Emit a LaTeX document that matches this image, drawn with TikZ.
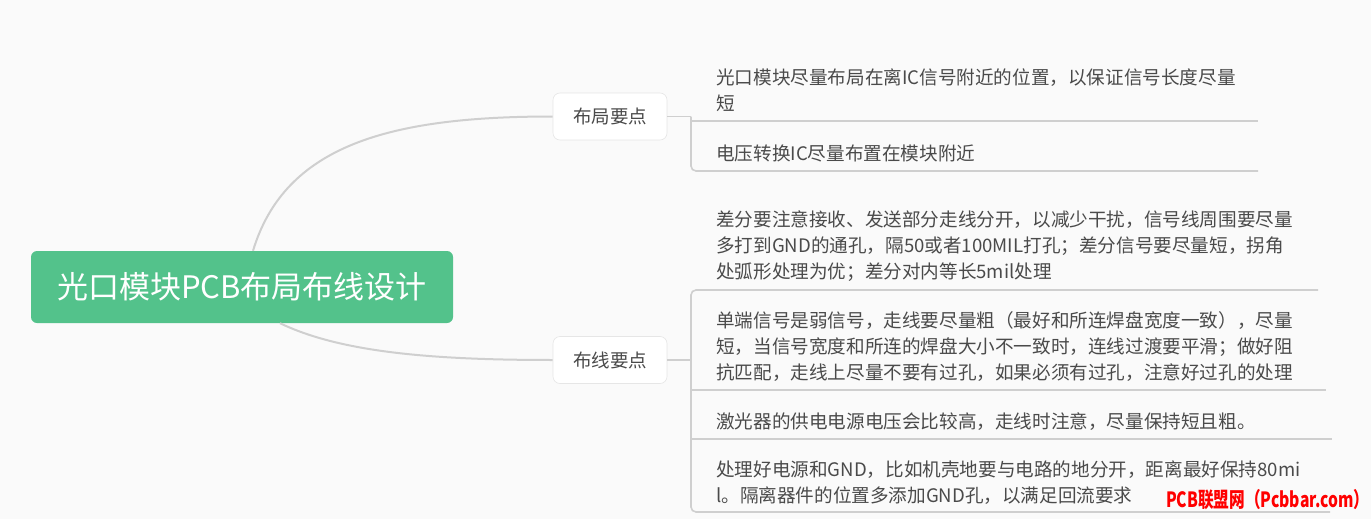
\documentclass[tikz,border=0pt]{standalone}
\usepackage{fontspec}
\setmainfont{Noto Sans CJK SC}
\newfontfamily\wmfont{Noto Sans CJK SC}
\usetikzlibrary{positioning}
\definecolor{bgc}{HTML}{FAFAFA}
\definecolor{rootc}{HTML}{53C28B}
\definecolor{linec}{HTML}{CFCFCF}
\definecolor{txtc}{HTML}{4A4A4A}
\definecolor{brc}{HTML}{E6E6E6}
\begin{document}
\begin{tikzpicture}[x=1pt,y=-1pt,
  rootbox/.style={fill=rootc,rounded corners=6pt,minimum width=422pt,minimum height=72pt,inner sep=0pt,
    text=white,font=\fontsize{31}{36}\selectfont},
  branchbox/.style={fill=white,draw=brc,line width=0.6pt,rounded corners=7pt,minimum width=114pt,minimum height=47pt,
    inner sep=0pt,text=txtc,font=\fontsize{18.5}{22}\selectfont},
  leaf/.style={anchor=west,inner sep=0pt,align=left,text=txtc,font=\fontsize{18.6}{25.6}\selectfont},
  conn/.style={draw=linec,line width=2pt},
  bar/.style={draw=linec,line width=1.6pt,rounded corners=5pt}]
\fill[bgc] (0,0) rectangle (1371,519);
\useasboundingbox (0,0) rectangle (1371,519);

\node[rootbox] (root) at (242,287) {光口模块PCB布局布线设计};
\node[branchbox] (b1) at (610,116.5) {布局要点};
\node[branchbox] (b2) at (610,360) {布线要点};

\draw[conn] ([xshift=11pt]root.north) .. controls (285,145) and (390,116.5) .. (b1.west);
\draw[conn] ([xshift=38pt]root.south) .. controls (340,352) and (430,360) .. (b2.west);

% branch 1 leaves
\node[leaf] (l11) at (716,90.5) {光口模块尽量布局在离IC信号附近的位置，以保证信号长度尽量\\短};
\node[leaf] (l12) at (716,153) {电压转换IC尽量布置在模块附近};
\coordinate (j1) at (691,116.5);
\draw[conn,line width=1.6pt] (b1.east) -- (j1);
\draw[bar] (j1) -- (691,171) -- (1258,171);
\draw[bar] (691,121) -- (1258,121);

% branch 2 leaves
\node[leaf] (l21) at (716,246) {差分要注意接收、发送部分走线分开，以减少干扰，信号线周围要尽量\\多打到GND的通孔，隔50或者100MIL打孔；差分信号要尽量短，拐角\\处弧形处理为优；差分对内等长5mil处理};
\node[leaf] (l22) at (716,346.5) {单端信号是弱信号，走线要尽量粗（最好和所连焊盘宽度一致），尽量\\短，当信号宽度和所连的焊盘大小不一致时，连线过渡要平滑；做好阻\\抗匹配，走线上尽量不要有过孔，如果必须有过孔，注意好过孔的处理};
\node[leaf] (l23) at (716,422) {激光器的供电电源电压会比较高，走线时注意，尽量保持短且粗。};
\node[leaf] (l24) at (716,482.5) {处理好电源和GND，比如机壳地要与电路的地分开，距离最好保持80mi\\l。隔离器件的位置多添加GND孔，以满足回流要求};
\coordinate (j2) at (691,360);
\draw[conn,line width=1.6pt] (b2.east) -- (j2);
\draw[bar] (1318,290) -- (691,290) -- (691,512) -- (1330,512);
\draw[bar] (691,390) -- (1326,390);
\draw[bar] (691,439) -- (1332,439);

% watermark
\node[anchor=west,inner sep=0pt,text=red,font=\wmfont\bfseries\fontsize{21}{24}\selectfont] (wm) at (1166,500)
  {\scalebox{0.745}[1]{PCB联盟网（Pcbbar.com）}};
\end{tikzpicture}
\end{document}
